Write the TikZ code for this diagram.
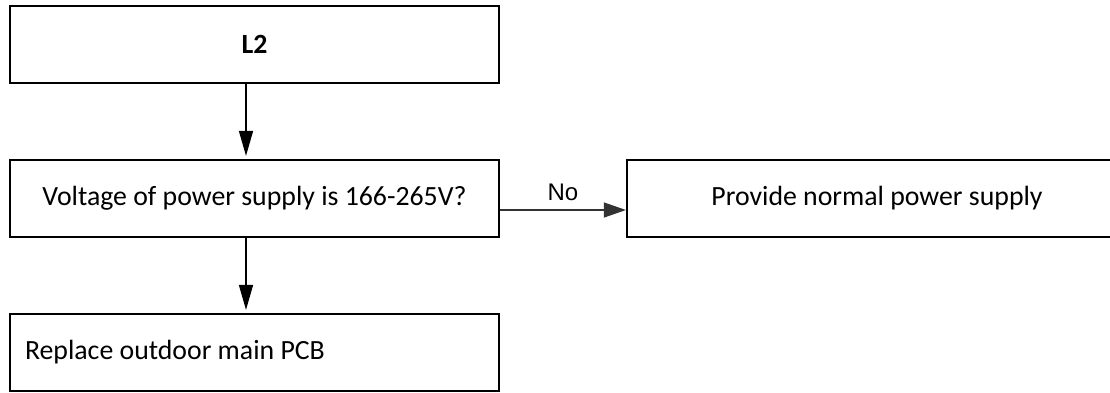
\documentclass[tikz,border=0pt]{standalone}
\usepackage{fontspec}
\setmainfont{Carlito}
\newfontfamily\labelfont{Liberation Sans}
\usetikzlibrary{arrows.meta}
\begin{document}
\begin{tikzpicture}[x=1pt,y=-1pt,
  flowbox/.style={draw, line width=2.2pt, minimum width=489pt, minimum height=77pt, inner sep=0pt, font=\fontsize{27.8}{32}\selectfont},
  varr/.style={line width=1.5pt, -{Triangle[length=25pt,width=14pt]}, shorten >=3pt},
  harr/.style={line width=1.1pt, draw=black!80, -{Triangle[length=22pt,width=15pt]}}
]
\useasboundingbox (0,0) rectangle (1110,392);
\clip (0,0) rectangle (1110,392);
\node[flowbox] (b1) at (254.5,44.5) {\textbf{L2}};
\node[flowbox] (b2) at (254.5,198.5) {Voltage of power supply is 166-265V?};
\node[flowbox, text width=459pt, align=flush left] (b3) at (254.5,352.5) {Replace outdoor main PCB};
\node[flowbox, minimum width=500pt] (b4) at (877,198.5) {Provide normal power supply};
\coordinate (ax) at (246,0);
\coordinate (hy) at (0,210);
\draw[varr] (b1.south -| ax) -- (b2.north -| ax);
\draw[varr] (b2.south -| ax) -- (b3.north -| ax);
\draw[harr] (b2.east |- hy) -- (b4.west |- hy) node[pos=0.5, above=5pt, font=\labelfont\fontsize{24}{28}\selectfont, text=black] (no) {No};
\end{tikzpicture}
\end{document}
